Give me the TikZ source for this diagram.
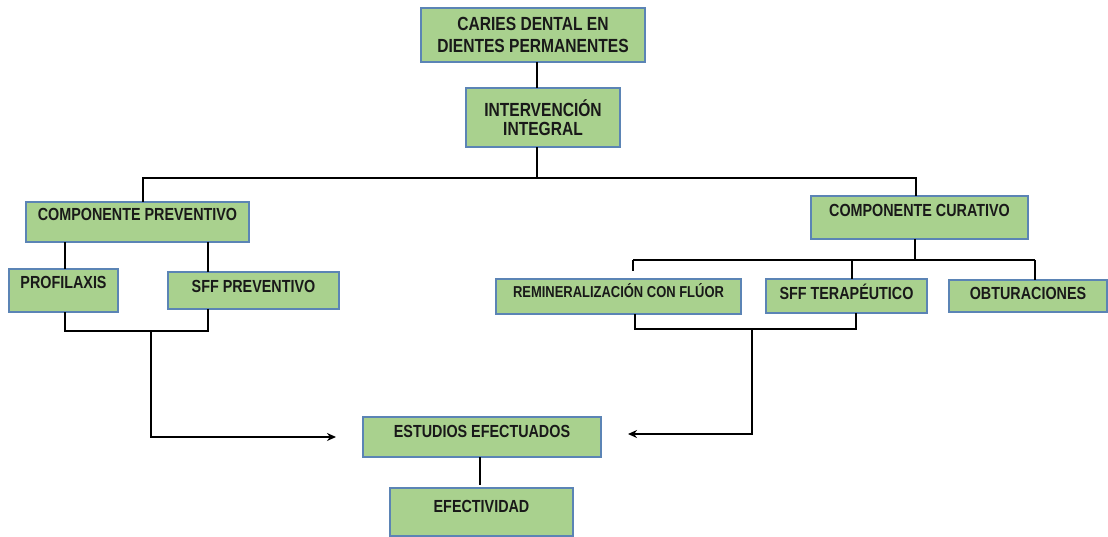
\documentclass[tikz,border=0pt]{standalone}
\usepackage{fontspec}
\setmainfont{Liberation Sans}[FakeStretch=0.82]
\usetikzlibrary{arrows.meta}

\begin{document}
\begin{tikzpicture}[x=1pt, y=-1pt,
  box/.style={draw=boxborder, fill=boxfill, line width=1.1pt, anchor=north west,
    inner sep=0pt, outer sep=0pt, text=black!90,
    font=\bfseries\fontsize{17.5}{21}\selectfont},
  tbox/.style 2 args={box, text height=#1pt, text depth=#2pt},
  link/.style={line width=2.4pt, draw=black},
  flow/.style={link, -{Stealth[length=9pt, width=8pt]}}]
  % Define colors
  \definecolor{boxfill}{HTML}{A9D18E}
  \definecolor{boxborder}{HTML}{5B84B5}

  \useasboundingbox (0,0) rectangle (1108,537);

  % Title boxes
  \node[box, minimum width=224pt, minimum height=54pt, align=center,
    font=\bfseries\fontsize{19}{22}\selectfont] (caries) at (421,8) {CARIES DENTAL EN\\DIENTES PERMANENTES};
  \node[box, minimum width=154pt, minimum height=59pt, align=center,
    font=\bfseries\fontsize{19}{18.5}\selectfont] (interv) at (466,88) {INTERVENCIÓN\\INTEGRAL};

  % Preventive branch
  \node[tbox={19}{21}, minimum width=223pt] (prev) at (26,202) {COMPONENTE PREVENTIVO};
  \node[tbox={20}{23}, minimum width=109pt] (prof) at (9,269) {PROFILAXIS};
  \node[tbox={20}{17}, minimum width=171pt] (sffp) at (168,272) {SFF PREVENTIVO};

  % Curative branch
  \node[tbox={21}{22}, minimum width=217pt] (cura) at (811,196) {COMPONENTE CURATIVO};
  \node[tbox={19}{16}, minimum width=245pt, font=\bfseries\fontsize{15.8}{18}\selectfont] (remin) at (496,279) {REMINERALIZACIÓN CON FLÚOR};
  \node[tbox={20}{14}, minimum width=161pt] (sfft) at (766,279) {SFF TERAPÉUTICO};
  \node[tbox={19}{13}, minimum width=158pt] (obt) at (949,280) {OBTURACIONES};

  % Results
  \node[tbox={20}{20}, minimum width=238pt] (estud) at (363,417) {ESTUDIOS EFECTUADOS};
  \node[tbox={24}{24}, minimum width=183pt] (efect) at (390,488) {EFECTIVIDAD};

  % Junction points
  \coordinate (trunk) at (537,178);
  \coordinate (hubL) at (143,178);
  \coordinate (hubR) at (916,178);
  \coordinate (prevL) at (65,331);
  \coordinate (prevR) at (208,331);
  \coordinate (prevM) at (151,331);
  \coordinate (curaM) at (915,260);
  \coordinate (curaL) at (633,260);
  \coordinate (curaC) at (852,260);
  \coordinate (curaR) at (1035,260);
  \coordinate (remL) at (635,329);
  \coordinate (remR) at (856,329);
  \coordinate (remM) at (752,329);
  \coordinate (stem) at (480,457);

  % Main trunk
  \draw[link] (caries.south -| trunk) -- (interv.north -| trunk);
  \draw[link] (interv.south -| trunk) -- (trunk);
  \draw[link] (prev.north -| hubL) -- (hubL) -- (hubR) -- (cura.north -| hubR);

  % Preventive connectors
  \draw[link] (prev.south -| prevL) -- (prof.north -| prevL);
  \draw[link] (prev.south -| prevR) -- (sffp.north -| prevR);
  \draw[link] (prof.south -| prevL) -- (prevL) -- (prevR) -- (sffp.south -| prevR);
  \draw[flow] (prevM) |- ([xshift=-27pt]estud.west);

  % Curative connectors
  \draw[link] (cura.south -| curaM) -- (curaM);
  \draw[link] (curaL) -- (curaR);
  \draw[link] (curaL) -- ([yshift=8pt]remin.north -| curaL);
  \draw[link] (curaC) -- (sfft.north -| curaC);
  \draw[link] (curaR) -- (obt.north -| curaR);
  \draw[link] (remin.south -| remL) -- (remL) -- (remR) -- (sfft.south -| remR);
  \draw[flow] (remM) |- ([xshift=27pt, yshift=3pt]estud.east);

  % Results link
  \draw[link] (estud.south -| stem) -- ([yshift=3pt]efect.north -| stem);
\end{tikzpicture}
\end{document}
